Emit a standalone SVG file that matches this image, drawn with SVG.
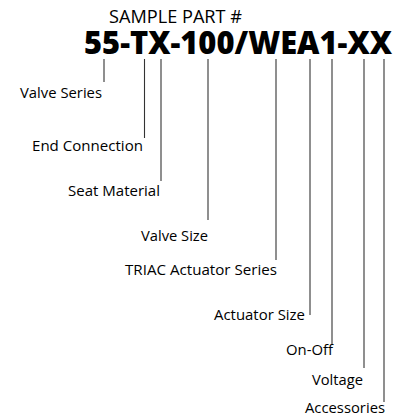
<svg xmlns="http://www.w3.org/2000/svg" width="404" height="417" viewBox="0 0 404 417">
<style>
.t{font-family:"Open Sans","Noto Sans",sans-serif;font-size:15px;fill:#000;text-anchor:end}
.h{font-family:"Open Sans","Noto Sans",sans-serif;fill:#000}
.c line{stroke:#333;stroke-width:1.1}
</style>
<rect width="404" height="417" fill="#fff"/>
<g id="title">
<text class="h" x="109" y="22.5" font-size="17.5" font-weight="500" textLength="133" lengthAdjust="spacingAndGlyphs">SAMPLE PART #</text>
<text class="h" x="84" y="54" font-size="31" font-weight="800" textLength="308" lengthAdjust="spacingAndGlyphs">55-TX-100/WEA1-XX</text>
</g>
<g class="c" id="connectors">
<line x1="104" y1="59" x2="104" y2="82"/>
<line x1="144.5" y1="59" x2="144.5" y2="138"/>
<line x1="161" y1="59" x2="161" y2="181"/>
<line x1="208" y1="59" x2="208" y2="220"/>
<line x1="276" y1="59" x2="276" y2="260"/>
<line x1="310" y1="59" x2="310" y2="315"/>
<line x1="332" y1="59" x2="332" y2="345"/>
<line x1="364" y1="59" x2="364" y2="368"/>
<line x1="384" y1="59" x2="384" y2="402"/>
</g>
<g id="valve-series"><text class="t" x="102" y="98" textLength="82" lengthAdjust="spacingAndGlyphs">Valve Series</text></g>
<g id="end-connection"><text class="t" x="143" y="151" textLength="111" lengthAdjust="spacingAndGlyphs">End Connection</text></g>
<g id="seat-material"><text class="t" x="160" y="196" textLength="92" lengthAdjust="spacingAndGlyphs">Seat Material</text></g>
<g id="valve-size"><text class="t" x="208" y="241" textLength="67" lengthAdjust="spacingAndGlyphs">Valve Size</text></g>
<g id="triac-actuator-series"><text class="t" x="277" y="275" textLength="152" lengthAdjust="spacingAndGlyphs">TRIAC Actuator Series</text></g>
<g id="actuator-size"><text class="t" x="305" y="320" textLength="91" lengthAdjust="spacingAndGlyphs">Actuator Size</text></g>
<g id="on-off"><text class="t" x="333" y="355" textLength="47" lengthAdjust="spacingAndGlyphs">On-Off</text></g>
<g id="voltage"><text class="t" x="363" y="385" textLength="51" lengthAdjust="spacingAndGlyphs">Voltage</text></g>
<g id="accessories"><text class="t" x="385" y="413" textLength="80" lengthAdjust="spacingAndGlyphs">Accessories</text></g>
</svg>
